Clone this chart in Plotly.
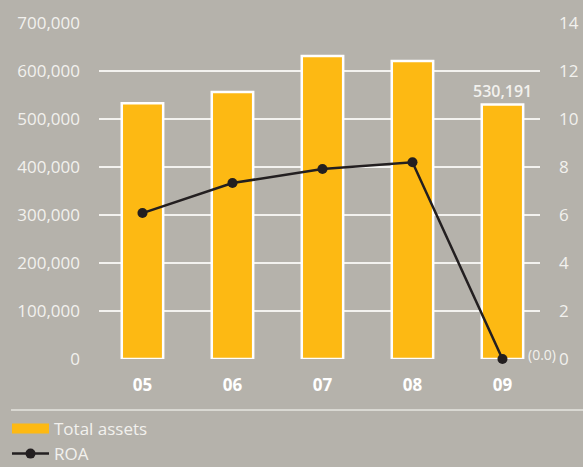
import plotly.graph_objects as go

years = ["05", "06", "07", "08", "09"]
total_assets = [533000, 556000, 631000, 621000, 530191]
roa = [6.08, 7.33, 7.92, 8.2, 0.0]

BG = "#b5b2ab"
YEL = "#fdb913"
TXT = "#f2f1ee"
FONT = "Open Sans"

fig = go.Figure()
fig.add_trace(go.Bar(
    x=years, y=total_assets, name="Total assets", showlegend=False,
    marker=dict(color=YEL, line=dict(color="white", width=2.5)),
    width=0.46,
))
# legend stand-in for the bar series (wide yellow swatch)
fig.add_trace(go.Scatter(
    x=[None], y=[None], name="Total assets", mode="lines",
    line=dict(color=YEL, width=14),
))
fig.add_trace(go.Scatter(
    x=years, y=roa, name="ROA", yaxis="y2", mode="lines+markers",
    line=dict(color="#231f20", width=2.5),
    marker=dict(color="#231f20", size=10),
    cliponaxis=False,
))
last = len(years) - 1
fig.add_annotation(x=last, y=total_assets[last], text=f"{total_assets[last]:,}", showarrow=False,
                   yanchor="bottom", yshift=1,
                   font=dict(color=TXT, size=16, family=FONT, weight=600))
fig.add_annotation(x=last, y=roa[last], yref="y2", text=f"({roa[last]:.1f})", showarrow=False,
                   xanchor="left", yanchor="middle", xshift=24, yshift=5,
                   font=dict(color=TXT, size=14, family=FONT))

fig.update_layout(
    width=583, height=467,
    paper_bgcolor=BG, plot_bgcolor=BG,
    margin=dict(l=99, r=43, t=23, b=108, autoexpand=False),
    font=dict(family=FONT, color=TXT, size=17),
    xaxis=dict(type="category", range=[-0.483, 4.417], showgrid=False, zeroline=False,
               showline=False, ticks="", tickfont=dict(size=17, color="white", family=FONT, weight="bold"),
               ticklabelstandoff=14),
    yaxis=dict(range=[0, 700000], dtick=100000, tickformat=",", showgrid=True,
               gridcolor="#f3f2ef", gridwidth=1.6, zeroline=False, showline=False,
               ticks="", ticklabelstandoff=18, tickfont=dict(size=17, color=TXT)),
    yaxis2=dict(range=[0, 14], dtick=2, overlaying="y", side="right", showgrid=False,
                zeroline=False, showline=False, ticks="", ticklabelstandoff=18,
                tickfont=dict(size=17, color=TXT)),
    showlegend=True,
    legend=dict(xref="container", yref="container", x=0.012, y=0.12, xanchor="left", yanchor="top",
                bgcolor="rgba(0,0,0,0)", font=dict(size=17, color=TXT), itemwidth=37,
                tracegroupgap=0, traceorder="normal"),
)
fig.add_shape(type="line", xref="paper", yref="paper", x0=-0.1995, x1=1.1, y0=-0.152, y1=-0.152,
              line=dict(color="#e6e4df", width=1.5))
fig.write_html("out.html", config={"displayModeBar": False},
               post_script="document.body.style.margin='0';document.body.style.background='%s';" % BG)
